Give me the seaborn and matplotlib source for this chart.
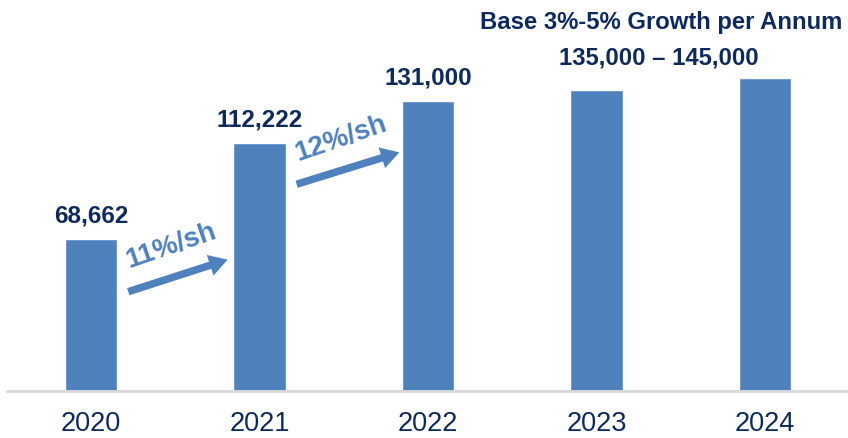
import matplotlib
matplotlib.use("Agg")
import matplotlib.pyplot as plt
import seaborn as sns
import pandas as pd

years = ["2020", "2021", "2022", "2023", "2024"]
volumes = [68662, 112222, 131000, 136000, 141500]
value_labels = ["68,662", "112,222", "131,000", "", ""]
growth_labels = ["11%/sh", "12%/sh"]
outlook_title = "Base 3%-5% Growth per Annum"
outlook_range = "135,000 \u2013 145,000"

BAR = "#4f81bd"
NAVY = "#0e2a5c"

sns.set_theme(style="white")
plt.rcParams["font.family"] = ["Liberation Sans", "DejaVu Sans"]

df = pd.DataFrame({"year": years, "volume": volumes})

fig = plt.figure(figsize=(8.48, 4.39), dpi=100)
ax = fig.add_axes([7 / 848, (439 - 392) / 439, 842 / 848, 392 / 439])
sns.barplot(data=df, x="year", y="volume", color=BAR, saturation=1, width=0.31, ax=ax)
ax.set_xlim(-0.5, 4.5)
ax.set_ylim(0, 392 * 452.2)

for s in ["top", "right", "left"]:
    ax.spines[s].set_visible(False)
ax.spines["bottom"].set_color("#d9d9d9")
ax.spines["bottom"].set_linewidth(2)
ax.set_yticks([])
ax.set_xlabel("")
ax.set_ylabel("")
ax.tick_params(axis="x", length=0, pad=14, labelsize=19.5, labelcolor=NAVY)

for i, (v, lab) in enumerate(zip(volumes, value_labels)):
    if lab:
        ax.annotate(lab, (i, v), xytext=(0, 9), textcoords="offset points",
                    ha="center", va="bottom", fontsize=17.5, fontweight="bold", color=NAVY)

# growth arrows between the historic bars
arrows = [((0.22, 44900), (0.81, 59400)), ((1.22, 93500), (1.83, 107900))]
for (start, end), lab in zip(arrows, growth_labels):
    ax.annotate("", xy=end, xytext=start,
                arrowprops=dict(arrowstyle="simple,head_width=1.3,head_length=1.1,tail_width=0.45",
                                color=BAR, lw=0, shrinkA=0, shrinkB=0, mutation_scale=12))
    mx = (start[0] + end[0]) / 2 - 0.04
    my = (start[1] + end[1]) / 2 + 13800
    ax.text(mx, my, lab, rotation=19, rotation_mode="anchor", ha="center", va="center",
            fontsize=20, color=BAR, fontweight="bold")

fig.text(661 / 848, 1 - 23 / 439, outlook_title, ha="center", va="center",
         fontsize=17.2, fontweight="bold", color=NAVY)
fig.text(659 / 848, 1 - 58 / 439, outlook_range, ha="center", va="center",
         fontsize=17.2, fontweight="bold", color=NAVY)

fig.savefig("out.png", dpi=100)
